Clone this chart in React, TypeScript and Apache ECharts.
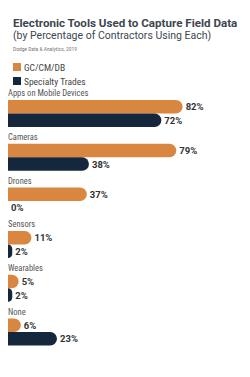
import React, { useEffect, useRef } from "react";
import * as echarts from "echarts";

const categories = ["Apps on Mobile Devices", "Cameras", "Drones", "Sensors", "Wearables", "None"];
const gcValues = [82, 79, 37, 11, 5, 6];
const tradeValues = [72, 38, 0, 2, 2, 23];
const seriesNames = ["GC/CM/DB", "Specialty Trades"];
const titleText = "Electronic Tools Used to Capture Field Data";
const subtitleText = "(by Percentage of Contractors Using Each)";
const sourceText = "Dodge Data & Analytics, 2019";

const ORANGE = "#D98740";
const NAVY = "#15273D";
const FONT = "'Liberation Sans Narrow', 'Roboto Condensed', Roboto, sans-serif";

export default function App() {
  const ref = useRef<HTMLDivElement>(null);
  useEffect(() => {
    if (!ref.current) return;
    const chart = echarts.init(ref.current, null, { renderer: "svg" });
    const valueLabel = {
      show: true,
      position: "right" as const,
      distance: 3,
      formatter: (p: any) => `${p.value}%`,
      fontFamily: "Roboto, sans-serif",
      fontWeight: "bold" as const,
      fontSize: 9.5,
      color: "#333333",
    };
    chart.setOption({
      animation: false,
      backgroundColor: "#ffffff",
      title: [
        {
          text: titleText,
          left: 8,
          top: 12,
          textStyle: { fontFamily: "Roboto, sans-serif", fontWeight: "bold", fontSize: 11.6, color: "#3D4650" },
        },
        {
          text: subtitleText,
          left: 8,
          top: 25,
          textStyle: { fontFamily: "Roboto, sans-serif", fontWeight: "normal", fontSize: 10.5, color: "#3D4650" },
        },
        {
          text: sourceText,
          left: 8,
          top: 41,
          textStyle: { fontFamily: FONT, fontWeight: "normal", fontSize: 5.5, color: "#777777" },
        },
      ],
      legend: {
        data: seriesNames,
        orient: "vertical",
        left: 8,
        top: 57,
        itemWidth: 8,
        itemHeight: 8,
        itemGap: 4,
        icon: "rect",
        textStyle: { fontFamily: FONT, fontSize: 9.5, color: "#444444", padding: [0, 0, 0, -2] },
      },
      grid: { left: 8, right: 29, top: 85, bottom: 30, containLabel: false },
      xAxis: {
        type: "value",
        min: 0,
        max: 100,
        show: false,
      },
      yAxis: {
        type: "category",
        data: categories,
        inverse: true,
        show: false,
      },
      series: [
        {
          name: "label",
          type: "bar",
          data: categories.map(() => 0),
          barWidth: 13.5,
          barGap: "0%",
          itemStyle: { color: "transparent" },
          label: {
            show: true,
            position: "right",
            distance: 0,
            formatter: (p: any) => p.name,
            fontFamily: FONT,
            fontSize: 8.5,
            color: "#555555",
          },
          silent: true,
        },
        {
          name: seriesNames[0],
          type: "bar",
          data: gcValues,
          barWidth: 13.5,
          barGap: "0%",
          itemStyle: { color: ORANGE, borderRadius: [0, 7, 7, 0] },
          label: valueLabel,
        },
        {
          name: seriesNames[1],
          type: "bar",
          data: tradeValues,
          barWidth: 13.5,
          barGap: "0%",
          itemStyle: { color: NAVY, borderRadius: [0, 7, 7, 0] },
          label: valueLabel,
        },
      ],
    });
    return () => chart.dispose();
  }, []);
  return <div ref={ref} style={{ width: 250, height: 377, margin: -8 }} />;
}
